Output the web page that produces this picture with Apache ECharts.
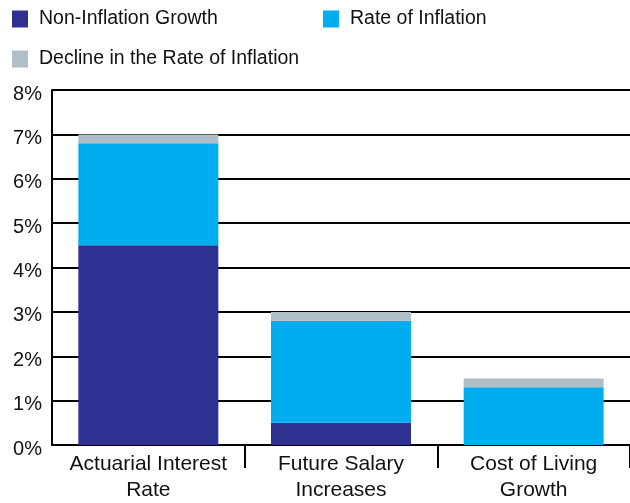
<!DOCTYPE html>
<html><head><meta charset="utf-8">
<script src="https://cdn.jsdelivr.net/npm/echarts@6/dist/echarts.min.js"></script>
<style>html,body{margin:0;padding:0;background:#fff}#c{width:630px;height:503px}</style>
</head><body><div id="c"></div>
<script>
const categories = ['Actuarial Interest\nRate', 'Future Salary\nIncreases', 'Cost of Living\nGrowth'];
const nonInflationGrowth = [4.5, 0.5, 0];
const rateOfInflation = [2.3, 2.3, 1.3];
const declineInRate = [0.2, 0.2, 0.2];
const seriesNames = ['Non-Inflation Growth', 'Rate of Inflation', 'Decline in the Rate of Inflation'];
const colors = ['#2e3192', '#00aeef', '#b0bec7'];
const FONT = 'Liberation Sans';

const chart = echarts.init(document.getElementById('c'));
const legendBase = {itemWidth: 16, itemHeight: 17, itemGap: 11, icon: 'rect',
  textStyle: {fontFamily: FONT, fontSize: 19.5, color: '#111', padding: [0, 0, 0, 6]}};
chart.setOption({
  animation: false,
  color: colors,
  legend: [
    Object.assign({}, legendBase, {data: [seriesNames[0]], left: 7, top: 4}),
    Object.assign({}, legendBase, {data: [seriesNames[1]], left: 318, top: 4}),
    Object.assign({}, legendBase, {data: [seriesNames[2]], left: 7, top: 44})
  ],
  grid: {left: 52, right: 0, top: 90, bottom: 56, containLabel: false},
  xAxis: {
    type: 'category', data: categories,
    axisLine: {lineStyle: {color: '#000', width: 2}},
    axisTick: {show: true, length: 23, lineStyle: {color: '#000', width: 2},
      interval: function (i) { return i !== 0; }},
    axisLabel: {interval: 0, fontFamily: FONT, fontSize: 21, color: '#111', lineHeight: 26, margin: 6}
  },
  yAxis: {
    type: 'value', min: 0, max: 8, interval: 1,
    axisLine: {show: true, lineStyle: {color: '#000', width: 2}},
    axisTick: {show: false},
    splitLine: {lineStyle: {color: '#000', width: 2}},
    axisLabel: {formatter: '{p|{value}%}', margin: 10,
      rich: {p: {fontFamily: FONT, fontSize: 20, color: '#111', padding: [8, 0, 0, 0]}}}
  },
  series: [
    {name: seriesNames[0], type: 'bar', stack: 's', barWidth: 140, data: nonInflationGrowth},
    {name: seriesNames[1], type: 'bar', stack: 's', barWidth: 140, data: rateOfInflation},
    {name: seriesNames[2], type: 'bar', stack: 's', barWidth: 140, data: declineInRate}
  ]
});
</script></body></html>
